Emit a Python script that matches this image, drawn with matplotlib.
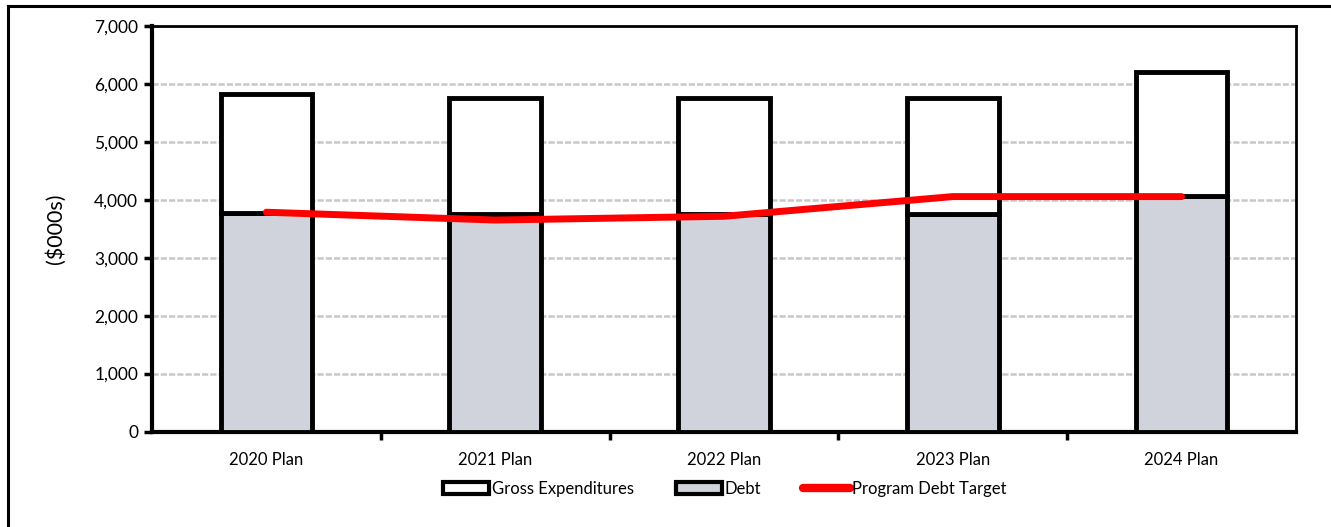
import numpy as np
import matplotlib.pyplot as plt
from matplotlib.lines import Line2D
from matplotlib.patches import Patch

# --- DATA ---
categories = ["2020 Plan", "2021 Plan", "2022 Plan", "2023 Plan", "2024 Plan"]
gross_total = [5825, 5760, 5760, 5760, 6205]
debt = [3780, 3750, 3750, 3750, 4065]
debt_target = [3785, 3650, 3715, 4055, 4055]

plt.rcParams['font.family'] = ['Lato', 'DejaVu Sans']

fig = plt.figure(figsize=(13.31, 5.27), dpi=100)
ax = fig.add_axes([0.1142, 0.1812, 0.8595, 0.7695])

x = np.arange(len(categories))
gross_part = np.array(gross_total) - np.array(debt)
bar_w = 0.4

ax.bar(x, debt, width=bar_w, color='#d0d3dc', edgecolor='black', linewidth=3.5, zorder=3)
ax.bar(x, gross_part, bottom=debt, width=bar_w, color='white', edgecolor='black',
       linewidth=3.5, zorder=3)
ax.plot(x, debt_target, color='#ff0000', linewidth=5, solid_capstyle='round',
        solid_joinstyle='round', zorder=4)

ax.set_xlim(-0.5, 4.5)
ax.set_ylim(0, 7000)
ax.set_yticks(np.arange(0, 7001, 1000))
ax.set_yticklabels([f"{v:,}" for v in range(0, 7001, 1000)])
ax.yaxis.grid(True, color='#c8c8c8', linestyle=(0, (2.5, 0.8)), linewidth=1.8, zorder=0)
ax.set_axisbelow(True)

ax.set_xticks(x)
ax.set_xticklabels(categories)
ax.set_xticks(np.arange(0.5, 4.5, 1), minor=True)
ax.tick_params(axis='x', which='major', length=0, pad=15, labelsize=12)
ax.tick_params(axis='x', which='minor', length=6, width=2.5, direction='out')
ax.tick_params(axis='y', length=6, width=2.5, direction='out', pad=4, labelsize=12.5)

for side in ['left', 'bottom']:
    ax.spines[side].set_linewidth(3)
for side in ['top', 'right']:
    ax.spines[side].set_linewidth(2)

ax.set_ylabel("($000s)", fontsize=15.5, labelpad=20)

handles = [
    Patch(facecolor='white', edgecolor='black', linewidth=3),
    Patch(facecolor='#d0d3dc', edgecolor='black', linewidth=3),
    Line2D([0], [0], color='#ff0000', linewidth=6, solid_capstyle='round'),
]
labels = ["Gross Expenditures", "Debt", "Program Debt Target"]
fig.legend(handles, labels, loc='center', bbox_to_anchor=(0.5445, 0.073), ncol=3,
           frameon=False, fontsize=12, handlelength=2.8, handleheight=0.75,
           handletextpad=0.15, columnspacing=2.5)

# outer border (top and left only)
fig.add_artist(Line2D([8 / 1331, 1], [1 - 6 / 527, 1 - 6 / 527], color='black', linewidth=2.2,
                      transform=fig.transFigure))
fig.add_artist(Line2D([8 / 1331, 8 / 1331], [0, 1 - 6 / 527], color='black', linewidth=2.2,
                      transform=fig.transFigure))

fig.savefig("out.png", dpi=100)
